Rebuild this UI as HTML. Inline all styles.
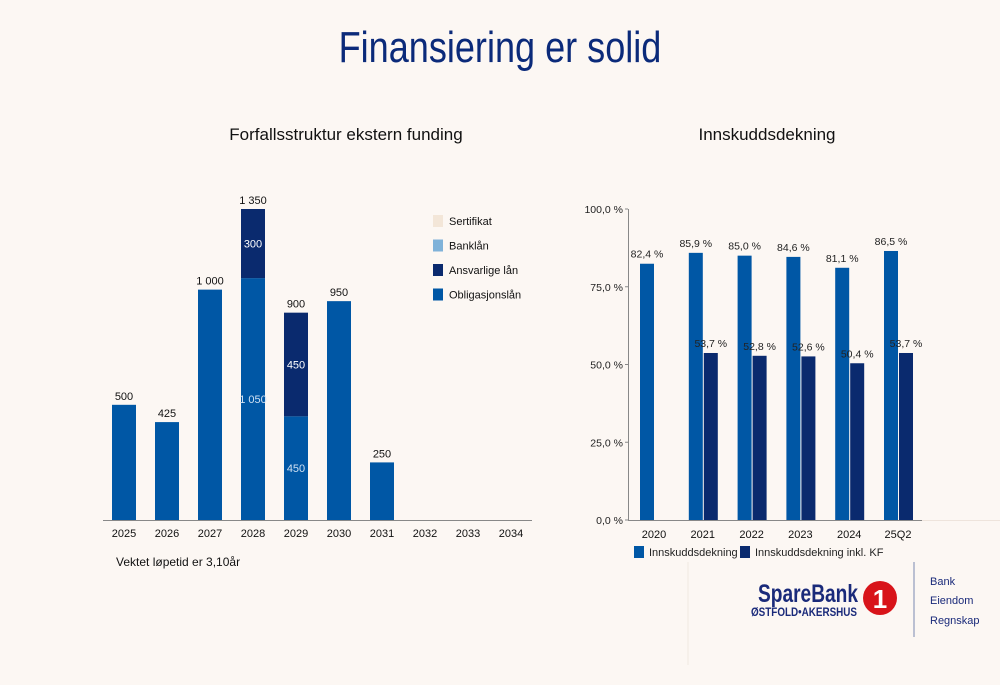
<!DOCTYPE html>
<html><head><meta charset="utf-8"><style>
body{margin:0;background:#fcf7f3;font-family:"Liberation Sans",sans-serif;}
#wrap{position:relative;width:1000px;height:685px;overflow:hidden;background:#fcf7f3}
svg text{font-family:"Liberation Sans",sans-serif}
</style></head><body><div id="wrap">
<svg id="s" width="1000" height="685">
<text x="500" y="62" text-anchor="middle" font-size="44" fill="#0b2a7a" transform="translate(500 0) scale(0.82 1) translate(-500 0)">Finansiering er solid</text>
<text x="346" y="140" text-anchor="middle" font-size="17" fill="#111">Forfallsstruktur ekstern funding</text>
<text x="767" y="140" text-anchor="middle" font-size="17" fill="#111">Innskuddsdekning</text>
<g id="left"></g><g id="right"></g>
<text x="116" y="566" font-size="12" fill="#111">Vektet løpetid er 3,10år</text>
<line x1="688" y1="562" x2="688" y2="665" stroke="#f0e8e2"/>
<text x="758" y="602" font-size="25" font-weight="bold" fill="#1a2a7a" textLength="100" lengthAdjust="spacingAndGlyphs">SpareBank</text>
<text x="751" y="616" font-size="11.5" font-weight="bold" fill="#1a2a7a" textLength="106" lengthAdjust="spacingAndGlyphs">ØSTFOLD•AKERSHUS</text>
<circle cx="880" cy="598" r="17" fill="#d8141a"/>
<text x="880" y="608" text-anchor="middle" font-size="26" font-weight="bold" fill="#fff">1</text>
<line x1="914" y1="562" x2="914" y2="637" stroke="#7a8ab0"/>
<text x="930" y="585" font-size="11" fill="#1a2a7a">Bank</text>
<text x="930" y="604" font-size="11" fill="#1a2a7a">Eiendom</text>
<text x="930" y="624" font-size="11" fill="#1a2a7a">Regnskap</text>
</svg></div>
<script>
const years=["2025","2026","2027","2028","2029","2030","2031","2032","2033","2034"];
const oblig=[500,425,1000,1050,450,950,250,0,0,0];
const ansv=[0,0,0,300,450,0,0,0,0,0];
const totals=[500,425,1000,1350,900,950,250,0,0,0];
const legendL=["Sertifikat","Banklån","Ansvarlige lån","Obligasjonslån"];
const legendLC=["#f3e6d8","#7fb2d9","#0a2a6e","#0057a5"];
const cats=["2020","2021","2022","2023","2024","25Q2"];
const dekn=[82.4,85.9,85.0,84.6,81.1,86.5];
const dekKF=[null,53.7,52.8,52.6,50.4,53.7];
const yTicks=[0,25,50,75,100];
const NS="http://www.w3.org/2000/svg";
function mk(p,t,a,txt){const e=document.createElementNS(NS,t);for(const k in a)e.setAttribute(k,a[k]);if(txt!=null)e.textContent=txt;p.appendChild(e);return e;}
const fmt=v=>v>=1000?Math.floor(v/1000)+" "+String(v%1000).padStart(3,"0"):String(v);
const pc=v=>v.toFixed(1).replace(".",",")+" %";
// left
const L=document.getElementById('left');
const lx=i=>124+i*43, ly=v=>520-v*311/1350;
let e=mk(L,'line',{x1:103,y1:520.5,x2:532,y2:520.5,stroke:'#888'});

years.forEach((y,i)=>{
 const x=lx(i);
 if(oblig[i]>0){e=mk(L,'rect',{x:x-12,y:ly(oblig[i]),width:24,height:520-ly(oblig[i]),fill:'#0057a5'});
 }
 if(ansv[i]>0){const y0=ly(oblig[i]),y1=ly(oblig[i]+ansv[i]);
 e=mk(L,'rect',{x:x-12,y:y1,width:24,height:y0-y1,fill:'#0a2a6e'});
 
 e=mk(L,'text',{x:x,y:(y0+y1)/2+4,'text-anchor':'middle','font-size':11,fill:'#fff'},fmt(ansv[i]));
 
 e=mk(L,'text',{x:x,y:(520+y0)/2+4,'text-anchor':'middle','font-size':11,fill:'#cfe0f2'},fmt(oblig[i]));
 }
 if(totals[i]>0){e=mk(L,'text',{x:x,y:ly(totals[i])-5,'text-anchor':'middle','font-size':11,fill:'#111'},fmt(totals[i]));
 }
 e=mk(L,'text',{x:x,y:537,'text-anchor':'middle','font-size':11,fill:'#111'},y);
 
});
legendL.forEach((n,i)=>{const y=221+i*24.5;
 e=mk(L,'rect',{x:433,y:y-6,width:10,height:12,fill:legendLC[i]});
 
 e=mk(L,'text',{x:449,y:y+4,'font-size':11,fill:'#111'},n);
 });
// right
const R=document.getElementById('right');
const rx=i=>654+i*48.8, ry=v=>520-v*3.11;
e=mk(R,'line',{x1:628.5,y1:209,x2:628.5,y2:520,stroke:'#888'});

e=mk(R,'line',{x1:628,y1:520.5,x2:922,y2:520.5,stroke:'#888'});

e=mk(R,'line',{x1:922,y1:520.5,x2:1000,y2:520.5,stroke:'#eee4dc'});

yTicks.forEach(t=>{e=mk(R,'text',{x:623,y:ry(t)+4,'text-anchor':'end','font-size':10.5,fill:'#222'},pc(t));
 
 e=mk(R,'line',{x1:625,y1:ry(t),x2:628,y2:ry(t),stroke:'#888'});
 });
cats.forEach((c,i)=>{const x=rx(i);
 e=mk(R,'rect',{x:x-14,y:ry(dekn[i]),width:14,height:520-ry(dekn[i]),fill:'#0057a5'});
 
 e=mk(R,'text',{x:x-7,y:ry(dekn[i])-6,'text-anchor':'middle','font-size':10.5,fill:'#222'},pc(dekn[i]));
 
 if(dekKF[i]!=null){e=mk(R,'rect',{x:x+1,y:ry(dekKF[i]),width:14,height:520-ry(dekKF[i]),fill:'#0a2a6e'});
 
 e=mk(R,'text',{x:x+8,y:ry(dekKF[i])-6,'text-anchor':'middle','font-size':10.5,fill:'#222'},pc(dekKF[i]));
 }
 e=mk(R,'text',{x:x,y:538,'text-anchor':'middle','font-size':11,fill:'#111'},c);
 });
[["Innskuddsdekning","#0057a5",634],["Innskuddsdekning inkl. KF","#0a2a6e",740]].forEach((l,i)=>{
 e=mk(R,'rect',{x:l[2],y:546,width:10,height:12,fill:l[1]});
 
 e=mk(R,'text',{x:l[2]+15,y:556,'font-size':11,fill:'#222'},l[0]);
 });
</script></body></html>
